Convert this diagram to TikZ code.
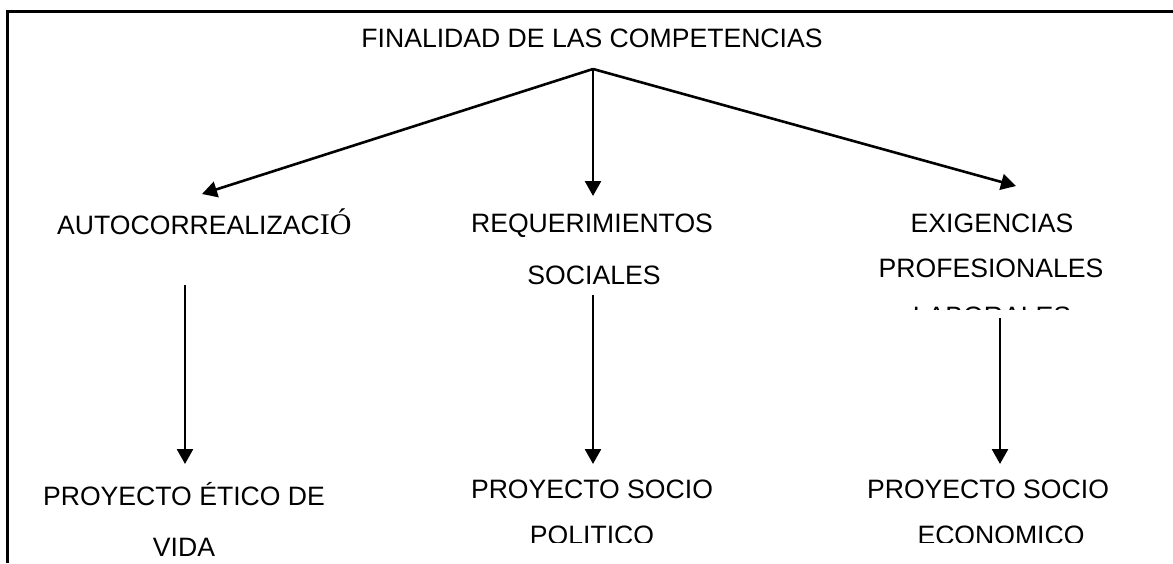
\documentclass[tikz,border=0pt]{standalone}
\usepackage{fontspec}
\setmainfont{Liberation Sans}
\newfontfamily\timesfont{Liberation Serif}
\usetikzlibrary{arrows.meta}
\begin{document}
\begin{tikzpicture}[x=1pt,y=-1pt,
  lbl/.style={anchor=base,inner sep=0pt,font=\fontsize{26.6}{30}\selectfont},
  conn/.style={line width=2.6pt,-{Triangle[length=15pt,width=16pt]}},
  frame/.style={line width=3pt}]
\useasboundingbox (0,0) rectangle (1173,563);
% page frame (top and left edges)
\draw[frame] (7,563) -- (7,11) -- (1173,11);

% title
\node[lbl] (title) at (592,47) {FINALIDAD DE LAS COMPETENCIAS};
\coordinate (hub) at (593,69);

% level 1
\node[lbl,anchor=base west] (auto) at (57,234) {AUTOCORREALIZAC{\timesfont\fontsize{30}{30}\selectfont IÓ}};
\node[lbl] (req1) at (592,232) {REQUERIMIENTOS};
\node[lbl] (req2) at (594,284) {SOCIALES};
\node[lbl] (exi1) at (992,232) {EXIGENCIAS};
\node[lbl] (exi2) at (991,277) {PROFESIONALES};
\begin{scope}
\clip (850,290) rectangle (1150,309);
\node[lbl] (exi3) at (992,325) {LABORALES};
\end{scope}

\coordinate (tipA) at (202,194);
\coordinate (tipB) at (593,196);
\coordinate (tipC) at (1016,186);
\draw[conn] (hub) -- (tipA);
\draw[conn] (hub) -- (tipB);
\draw[conn] (hub) -- (tipC);

% level 2
\node[lbl] (eti1) at (184,505) {PROYECTO ÉTICO DE};
\begin{scope}
\clip (20,520) rectangle (400,559);
\node[lbl] (eti2) at (184,556) {VIDA};
\end{scope}
\node[lbl] (pol1) at (592,498) {PROYECTO SOCIO};
\begin{scope}
\clip (420,515) rectangle (780,542);
\node[lbl] (pol2) at (592,544) {POLITICO};
\end{scope}
\node[lbl] (eco1) at (988,498) {PROYECTO SOCIO};
\begin{scope}
\clip (860,515) rectangle (1160,542);
\node[lbl] (eco2) at (1001,544) {ECONOMICO};
\end{scope}

\coordinate (sA) at (185,285);
\coordinate (eA) at (185,464);
\coordinate (sB) at (593,295);
\coordinate (eB) at (593,464);
\coordinate (sC) at (1000,318);
\coordinate (eC) at (1000,464);
\draw[conn] (sA) -- (eA);
\draw[conn] (sB) -- (eB);
\draw[conn] (sC) -- (eC);
\end{tikzpicture}
\end{document}
